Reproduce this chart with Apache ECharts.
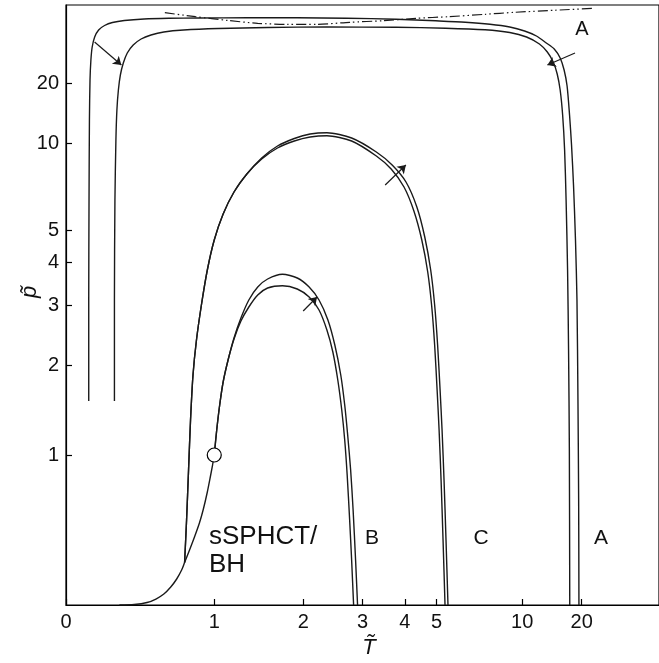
<!DOCTYPE html>
<html>
<head>
<meta charset="utf-8">
<script src="https://cdn.jsdelivr.net/npm/echarts@6/dist/echarts.min.js"></script>
<style>html,body{margin:0;padding:0;background:#fff;}#c{width:659px;height:663px;}</style>
</head>
<body>
<div id="c"></div>
<script>
// Tick labels
const xTicks = [0, 1, 2, 3, 4, 5, 10, 20];
const yTicks = [1, 2, 3, 4, 5, 10, 20];

// Curve A (outer)
const aOuterT = [0.1196,0.1196,0.1212,0.1234,0.1266,0.1315,0.1386,0.1524,0.1746,0.2086,0.255,0.3272,0.4549,0.629,0.8627,1.327,1.918,2.696,3.767,4.965,6.184,7.526,8.921,10.235,11.516,12.789,13.981,15.0,15.75,16.355,16.889,17.339,17.809,18.302,18.687,18.951,19.14,19.222];
const aOuterP = [1.545,3.102,6.231,12.652,21.0,29.73,39.86,53.25,69.0,84.8,99.86,113.1,125.6,132.3,135.5,137.6,137.6,133.4,123.8,110.9,101.65,90.75,78.82,66.23,55.06,44.37,37.91,30.96,24.69,19.22,13.36,9.857,7.0,4.66,3.102,1.557,0.6364,0];
// Curve A (inner)
const aInnerT = [0.2668,0.2668,0.2698,0.2757,0.2817,0.2907,0.3028,0.321,0.3457,0.3835,0.4351,0.5019,0.5928,0.7422,1.0359,1.5455,2.357,3.767,5.333,7.227,8.921,10.433,11.876,12.929,13.822,14.476,15.0,15.462,15.848,16.149,16.459,16.672,16.846,16.934];
const aInnerP = [1.545,3.102,6.231,10.333,14.143,18.176,22.714,28.03,34.5,42.0,49.94,57.0,63.67,69.0,73.6,77.0,78.82,77.72,74.59,69.58,62.45,53.25,43.15,35.3,28.58,23.09,18.176,13.36,9.414,6.231,3.792,2.217,1.045,0];
// Curve C (outer)
const cOuterT = [0.75,0.7657,0.7815,0.7975,0.8176,0.8462,0.8877,0.9387,1.0,1.0816,1.186,1.3165,1.4776,1.6632,1.878,2.0992,2.357,2.7878,3.2937,3.6667,4.0313,4.3469,4.5949,4.7922,4.9295,5.0357,5.1264,5.2005,5.2759,5.3527,5.4309];
const cOuterP = [0.2287,0.4951,0.871,1.3373,1.8649,2.3731,3.0,3.7925,4.6596,5.6124,6.6257,7.6509,8.7647,9.766,10.483,10.953,11.096,10.534,9.245,8.25,7.1695,5.9109,4.7586,3.7925,3.0,2.2941,1.6753,1.2353,0.7895,0.3645,0];
// Curve C (inner)
const cInnerT = [0.75,0.7657,0.7815,0.7975,0.8176,0.8462,0.8877,0.9387,1.0,1.0816,1.186,1.3165,1.4776,1.6632,1.878,2.0992,2.357,2.7878,3.2937,3.6421,3.9767,4.2581,4.5,4.6923,4.8261,4.9295,5.0178,5.0899,5.1633,5.238,5.3141];
const cInnerP = [0.2287,0.4951,0.871,1.3373,1.8649,2.3731,3.0,3.7925,4.6596,5.6124,6.6257,7.6509,8.6883,9.5874,10.235,10.636,10.772,10.235,8.9205,7.9756,6.8901,5.7379,4.6596,3.7416,2.9801,2.2941,1.6753,1.2353,0.7895,0.3645,0];
// Curve B (outer)
const bOuterT = [1.0,1.0223,1.0495,1.0816,1.1284,1.186,1.2553,1.3373,1.4335,1.5455,1.7244,1.918,2.0847,2.2326,2.3731,2.4878,2.5901,2.6604,2.7143,2.7692,2.8158,2.8632,2.9016];
const bOuterP = [1.0,1.2353,1.5,1.7745,2.0704,2.4054,2.7508,3.1017,3.383,3.5693,3.684,3.5934,3.383,3.1017,2.7143,2.2941,1.8649,1.5,1.186,0.871,0.5644,0.2432,0];
// Curve B (inner)
const bInnerT = [1.0,1.0223,1.0495,1.0816,1.1284,1.186,1.2553,1.3373,1.4335,1.5455,1.7244,1.918,2.0847,2.2326,2.357,2.4545,2.5385,2.6075,2.6604,2.7052,2.7508,2.7878,2.8252];
const bInnerP = [1.0,1.2353,1.5,1.7745,2.0704,2.3892,2.6962,2.9603,3.2069,3.3604,3.4126,3.338,3.1644,2.9016,2.5385,2.1873,1.8,1.4444,1.1379,0.8298,0.4951,0.2432,0];
// sSPHCT/BH curve
const bhT = [0.2967,0.3898,0.4749,0.5363,0.5928,0.6437,0.6885,0.7267,0.75,0.7895,0.8298,0.871,0.9046,0.9387,0.9648,0.9849,1.0];
const bhP = [0,0.0025,0.01255,0.0303,0.056,0.0928,0.1359,0.1858,0.2287,0.3028,0.3835,0.4749,0.5714,0.6961,0.8136,0.913,1.0];
// Dash-dot curve
const ddT = [0.6,0.838,1.1284,1.4335,1.7872,2.2023,2.7508,3.4516,4.3171,5.4507,7.227,9.3288,13.981,24.273];
const ddP = [230.9,150.9,113.1,95.36,90.26,90.26,101.05,111.65,132.3,150.9,190.5,243.6,336.6,542.5];
// Critical point
const critT = [1];
const critP = [1];
// Arrows: [T0, p0, T1, p1]
const arrowA1 = [0.152, 45.6, 0.309, 27];
const arrowA2 = [18.18, 34.5, 12.94, 27];
const arrowC = [3.497, 7.0, 4.028, 8.25];
const arrowB = [2.0, 2.882, 2.202, 3.164];

const fx = t => t / (t + 3);
const fy = p => p / (p + 3);
const pts = (T, P) => T.map((t, i) => [fx(t), fy(P[i])]);
const inv = v => Math.round(3 * v / (1 - v));

const LC = '#1a1a1a';
const FONT = 'Liberation Sans';

function curve(T, P, extra) {
  return Object.assign({
    type: 'line', data: pts(T, P), showSymbol: false, symbol: 'none', smooth: 0.25,
    lineStyle: { color: LC, width: 1.4 }, silent: true, z: 3
  }, extra || {});
}
function arrow(a) {
  return { coords: [[fx(a[0]), fy(a[1])], [fx(a[2]), fy(a[3])]] };
}

const chart = echarts.init(document.getElementById('c'), null, { renderer: 'canvas' });
chart.setOption({
  animation: false,
  backgroundColor: '#fff',
  grid: { left: 66, top: 5, right: -7, bottom: 58, show: true, borderColor: '#000', borderWidth: 1.2, backgroundColor: 'transparent' },
  xAxis: {
    type: 'value', min: 0, max: 1,
    axisLine: { show: true, lineStyle: { color: '#000', width: 1.2 } },
    axisTick: { show: true, inside: true, length: 6, customValues: xTicks.map(fx), lineStyle: { color: '#000', width: 1.2 } },
    axisLabel: { customValues: xTicks.map(fx), formatter: v => String(inv(v)), color: '#111', fontFamily: FONT, fontSize: 20, margin: 7 },
    splitLine: { show: false }
  },
  yAxis: {
    type: 'value', min: 0, max: 1,
    axisLine: { show: true, lineStyle: { color: '#000', width: 1.2 } },
    axisTick: { show: true, inside: true, length: 6, customValues: yTicks.map(fy), lineStyle: { color: '#000', width: 1.2 } },
    axisLabel: { customValues: yTicks.map(fy), formatter: v => String(inv(v)), color: '#111', fontFamily: FONT, fontSize: 20, margin: 7 },
    splitLine: { show: false }
  },
  series: [
    curve(aOuterT, aOuterP),
    curve(aInnerT, aInnerP),
    curve(cOuterT, cOuterP),
    curve(cInnerT, cInnerP),
    curve(bOuterT, bOuterP),
    curve(bInnerT, bInnerP),
    curve(bhT, bhP),
    curve(ddT, ddP, { lineStyle: { color: LC, width: 1.2, type: [10, 3, 1.5, 3, 1.5, 3] } }),
    {
      type: 'lines', coordinateSystem: 'cartesian2d', silent: true, z: 4,
      symbol: ['none', 'arrow'], symbolSize: 8,
      lineStyle: { color: LC, width: 1.2, opacity: 1, curveness: 0 },
      data: [arrow(arrowA1), arrow(arrowA2), arrow(arrowC), arrow(arrowB)]
    },
    {
      type: 'scatter', data: pts(critT, critP), symbol: 'circle', symbolSize: 14, z: 5, silent: true,
      itemStyle: { color: '#fff', borderColor: '#000', borderWidth: 1.2, opacity: 1 }
    }
  ],
  graphic: [
    { type: 'text', x: 582, y: 29, style: { text: 'A', font: '20px "Liberation Sans"', fill: '#111', textAlign: 'center', textVerticalAlign: 'middle' } },
    { type: 'text', x: 372, y: 538, style: { text: 'B', font: '21px "Liberation Sans"', fill: '#111', textAlign: 'center', textVerticalAlign: 'middle' } },
    { type: 'text', x: 481, y: 538, style: { text: 'C', font: '21px "Liberation Sans"', fill: '#111', textAlign: 'center', textVerticalAlign: 'middle' } },
    { type: 'text', x: 601, y: 538, style: { text: 'A', font: '21px "Liberation Sans"', fill: '#111', textAlign: 'center', textVerticalAlign: 'middle' } },
    { type: 'text', x: 209, y: 537, style: { text: 'sSPHCT/', font: '26px "Liberation Sans"', fill: '#111', textAlign: 'left', textVerticalAlign: 'middle' } },
    { type: 'text', x: 209, y: 565, style: { text: 'BH', font: '26px "Liberation Sans"', fill: '#111', textAlign: 'left', textVerticalAlign: 'middle' } },
    { type: 'text', x: 369, y: 648, style: { text: 'T\u0303', font: 'italic 22px "Liberation Sans"', fill: '#111', textAlign: 'center', textVerticalAlign: 'middle' } },
    { type: 'text', x: 30, y: 292, rotation: Math.PI / 2, style: { text: 'p\u0303', font: 'italic 22px "Liberation Sans"', fill: '#111', textAlign: 'center', textVerticalAlign: 'middle' } }
  ]
});
</script>
</body>
</html>
